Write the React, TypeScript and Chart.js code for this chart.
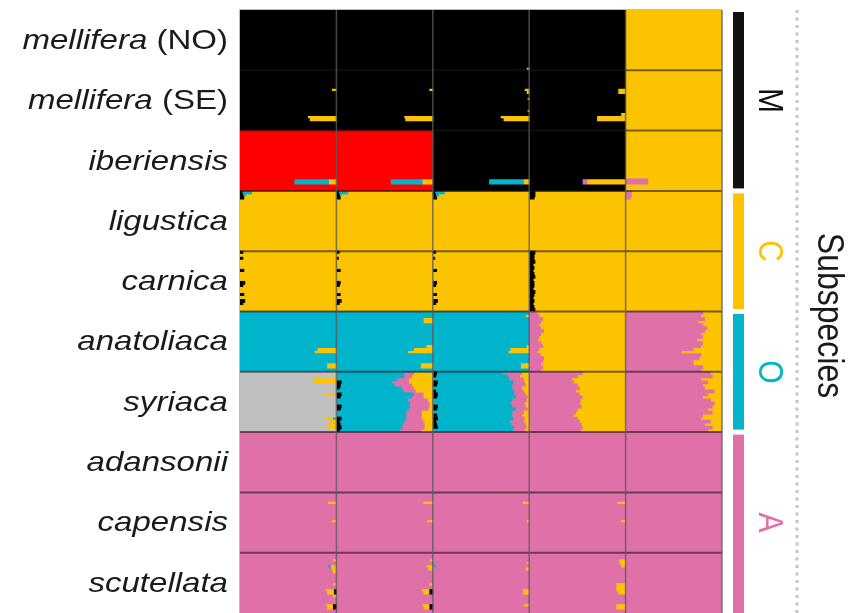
import React, { useEffect, useRef } from "react";
import { Chart, registerables } from "chart.js";
Chart.register(...registerables);

// ---------- DATA ----------
const subspeciesItalic = ["mellifera", "mellifera", "iberiensis", "ligustica", "carnica", "anatoliaca", "syriaca", "adansonii", "capensis", "scutellata"];
const subspeciesSuffix = [" (NO)", " (SE)", "", "", "", "", "", "", "", ""];
const lineageNames = ["M", "C", "O", "A"];
const lineageFirst = [0, 3, 5, 7];
const lineageLast = [2, 4, 6, 9];
const lineageColors = ["#111111", "#fcc400", "#00b4cc", "#e070a8"];
const axisTitle = "Subspecies";
const clusterColors: Record<string, string> = {
  k: "#000000", r: "#ff0000", y: "#fcc400", b: "#00b4cc", p: "#e070a8", g: "#c0c0c0",
};
const perSubspecies = 20;
const runs = 5;

// base cluster of each subspecies in each run (column)
const baseRun1 = ["k", "k", "r", "y", "y", "b", "g", "p", "p", "p"];
const baseRun2 = ["k", "k", "r", "y", "y", "b", "b", "p", "p", "p"];
const baseRun3 = ["k", "k", "k", "y", "y", "b", "b", "p", "p", "p"];
const baseRun4 = ["k", "k", "k", "y", "y", "y", "p", "p", "p", "p"];
const baseRun5 = ["y", "y", "y", "y", "y", "p", "p", "p", "p", "p"];

// admixed individuals: [subspecies, individual, segments left->right ("*" = remainder)]
const mixRun1: [number, number, string][] = [
  [1, 6, "k* y.05"], [1, 15, "k* y.30"], [1, 16, "k* y.28"],
  [2, 16, "r* b.36 y.08"], [2, 17, "r* b.36 y.08"],
  [3, 0, "k.02 b.10 y*"], [3, 1, "k.03 b.03 y*"], [3, 2, "k.04 y*"],
  [4, 0, "k.03 y*"], [4, 2, "k.03 y*"], [4, 6, "k.04 y*"], [4, 10, "k.05 y*"], [4, 11, "k.03 y*"], [4, 14, "k.04 y*"], [4, 16, "k.05 y*"], [4, 17, "k.03 y*"],
  [5, 12, "b* y.20"], [5, 13, "b* y.23"], [5, 17, "b* y.10"], [5, 18, "b* y.10"],
  [6, 2, "g* y.24"], [6, 3, "g* y.24"], [6, 7, "g* y.14"], [6, 15, "g* y.10 b.04"], [6, 16, "g* y.06"], [6, 17, "g* y.09"], [6, 18, "g* y.09"],
  [8, 3, "p* y.09"], [8, 9, "p* y.05"],
  [9, 2, "p* y.04"], [9, 4, "p* b.03 y.06"], [9, 5, "p* y.05"], [9, 6, "p* y.04"], [9, 10, "p* y.04"], [9, 12, "p* y.08 k.03"], [9, 13, "p* y.07 k.03"], [9, 14, "p* y.04"], [9, 17, "p* y.07 k.04"], [9, 18, "p* y.06 k.04"],
];
const mixRun2: [number, number, string][] = [
  [1, 6, "k* y.04"], [1, 15, "k* y.30"], [1, 16, "k* y.29"],
  [2, 16, "r* b.33 y.11"], [2, 17, "r* b.33 y.11"],
  [3, 0, "k.02 b.10 y*"], [3, 1, "k.03 b.02 y*"], [3, 2, "k.04 y*"],
  [4, 0, "k.03 y*"], [4, 2, "k.02 y*"], [4, 6, "k.04 y*"], [4, 10, "k.04 y*"], [4, 11, "k.03 y*"], [4, 14, "k.04 y*"], [4, 16, "k.05 y*"], [4, 17, "k.03 y*"],
  [5, 2, "b* y.10"], [5, 3, "b* y.10"], [5, 11, "b* y.07"], [5, 12, "b* y.20"], [5, 13, "b* y.26"], [5, 17, "b* y.13"], [5, 18, "b* y.13"],
  [8, 3, "p* y.10"], [8, 9, "p* y.06"],
  [9, 2, "p* y.04"], [9, 4, "p* y.07"], [9, 5, "p* y.05"], [9, 10, "p* y.04"], [9, 12, "p* y.08 k.04"], [9, 13, "p* y.06 k.04"], [9, 17, "p* y.07 k.04"], [9, 18, "p* y.06 k.04"],
];
const mixRun3: [number, number, string][] = [
  [0, 19, "k* y.03"],
  [1, 6, "k* y.05"], [1, 7, "k* y.03"], [1, 9, "k* y.02"], [1, 13, "k* y.02"], [1, 15, "k* y.30"], [1, 16, "k* y.27"],
  [2, 16, "k* b.36 y.06"], [2, 17, "k* b.36 y.06"],
  [3, 0, "k.02 b.10 y*"], [3, 1, "k.03 b.03 y*"], [3, 2, "k.04 y*"],
  [4, 0, "k.03 y*"], [4, 2, "k.02 y*"], [4, 6, "k.04 y*"], [4, 10, "k.04 y*"], [4, 11, "k.03 y*"], [4, 14, "k.04 y*"], [4, 16, "k.05 y*"], [4, 17, "k.03 y*"],
  [5, 1, "b* y.04"], [5, 11, "b* y.03"], [5, 12, "b* y.20"], [5, 13, "b* y.22"], [5, 17, "b* y.09"], [5, 18, "b* y.09"],
  [8, 3, "p* y.07"], [8, 9, "p* y.03"],
  [9, 3, "p* y.03"], [9, 4, "b.03 p*"], [9, 5, "p* y.04"], [9, 12, "p* y.07"], [9, 13, "p* y.07"], [9, 17, "p* y.06"],
];
const mixRun4: [number, number, string][] = [
  [1, 6, "k* y.08"], [1, 7, "k* y.08"], [1, 14, "k* y.05"], [1, 15, "k* y.30"], [1, 16, "k* y.30"],
  [2, 16, "k* p.05 y.40"], [2, 17, "k* p.05 y.40"],
  [3, 0, "k.06 y*"], [3, 1, "k.06 y*"], [3, 2, "k.05 y*"],
  [8, 3, "p* y.09"], [8, 9, "p* y.05"],
  [9, 2, "p* y.07"], [9, 3, "p* y.07"], [9, 4, "p* y.05"], [9, 10, "p* y.10"], [9, 11, "p* y.10"], [9, 12, "p* y.10"], [9, 13, "p* y.08"], [9, 17, "p* y.10"], [9, 18, "p* y.10"],
];
const mixRun5: [number, number, string][] = [
  [2, 16, "p.23 y*"], [2, 17, "p.23 y*"],
  [3, 0, "p.06 y*"], [3, 1, "p.06 y*"], [3, 2, "p.05 y*"],
];

// per-individual fractions for the strongly admixed cells
const run2SyriacaBlack = [0, 0, 0, 0.05, 0.04, 0.03, 0, 0.05, 0.04, 0, 0, 0.05, 0.04, 0, 0, 0.05, 0.03, 0.04, 0.05, 0.03];
const run2SyriacaPink = [0.1, 0.08, 0.12, 0.18, 0.18, 0.13, 0.13, 0.1, 0.12, 0.2, 0.2, 0.2, 0.2, 0.16, 0.16, 0.16, 0.2, 0.23, 0.23, 0.23];
const run2SyriacaYellow = [0.2, 0.22, 0.25, 0.25, 0.22, 0.2, 0.18, 0.1, 0.1, 0.06, 0.04, 0.04, 0.05, 0.12, 0.12, 0.12, 0.1, 0.09, 0.09, 0.12];
const run3SyriacaBlack = [0.04, 0.03, 0, 0.05, 0.04, 0, 0.03, 0.05, 0.04, 0, 0, 0.05, 0.04, 0, 0.04, 0.05, 0.03, 0.04, 0.05, 0];
const run3SyriacaPink = [0.2, 0.12, 0.15, 0.12, 0.14, 0.1, 0.1, 0.12, 0.12, 0.15, 0.15, 0.14, 0.12, 0.12, 0.1, 0.12, 0.15, 0.15, 0.13, 0.12];
const run3SyriacaYellow = [0.08, 0.1, 0.06, 0.05, 0.04, 0.08, 0.06, 0.04, 0.02, 0.03, 0.05, 0.04, 0.02, 0.06, 0.08, 0.05, 0.06, 0.04, 0.03, 0.05];
const run4CarnicaBlack = [0.06, 0.05, 0.05, 0.06, 0.04, 0.05, 0.04, 0.05, 0.06, 0.04, 0.05, 0.05, 0.04, 0.06, 0.05, 0.04, 0.05, 0.04, 0.05, 0.06];
const run4AnatoliacaPink = [0.08, 0.1, 0.14, 0.12, 0.1, 0.12, 0.15, 0.12, 0.1, 0.09, 0.12, 0.14, 0.1, 0.08, 0.12, 0.15, 0.14, 0.12, 0.14, 0.12];
const run4SyriacaPink = [0.55, 0.5, 0.44, 0.46, 0.5, 0.52, 0.48, 0.52, 0.55, 0.53, 0.52, 0.54, 0.5, 0.48, 0.46, 0.5, 0.52, 0.54, 0.55, 0.53];
const run5AnatoliacaYellow = [0.2, 0.22, 0.18, 0.25, 0.2, 0.16, 0.18, 0.22, 0.2, 0.26, 0.2, 0.22, 0.3, 0.42, 0.22, 0.24, 0.3, 0.3, 0.2, 0.22];
const run5SyriacaYellow = [0.12, 0.1, 0.22, 0.15, 0.2, 0.18, 0.08, 0.15, 0.2, 0.12, 0.08, 0.1, 0.15, 0.1, 0.2, 0.22, 0.12, 0.18, 0.1, 0.15];

// ---------- BUILD ----------
type Seg = [string, number];

function parseSegs(spec: string): Seg[] {
  const toks = spec.split(" ").map((t) => [t[0], t.slice(1)] as [string, string]);
  const fixed = toks.filter((t) => t[1] !== "*").reduce((s, t) => s + parseFloat(t[1]), 0);
  return toks.map(([c, v]) => [c, v === "*" ? 1 - fixed : parseFloat(v)] as Seg);
}

const bases = [baseRun1, baseRun2, baseRun3, baseRun4, baseRun5];
const mixes = [mixRun1, mixRun2, mixRun3, mixRun4, mixRun5];

function composition(run: number, s: number, i: number): Seg[] {
  if (run === 1 && s === 6) {
    return [["k", run2SyriacaBlack[i]], ["b", 1 - run2SyriacaBlack[i] - run2SyriacaPink[i] - run2SyriacaYellow[i]], ["p", run2SyriacaPink[i]], ["y", run2SyriacaYellow[i]]];
  }
  if (run === 2 && s === 6) {
    return [["k", run3SyriacaBlack[i]], ["b", 1 - run3SyriacaBlack[i] - run3SyriacaPink[i] - run3SyriacaYellow[i]], ["p", run3SyriacaPink[i]], ["y", run3SyriacaYellow[i]]];
  }
  if (run === 3 && s === 4) return [["k", run4CarnicaBlack[i]], ["y", 1 - run4CarnicaBlack[i]]];
  if (run === 3 && s === 5) return [["p", run4AnatoliacaPink[i]], ["y", 1 - run4AnatoliacaPink[i]]];
  if (run === 3 && s === 6) return [["p", run4SyriacaPink[i]], ["y", 1 - run4SyriacaPink[i]]];
  if (run === 4 && s === 5) return [["p", 1 - run5AnatoliacaYellow[i]], ["y", run5AnatoliacaYellow[i]]];
  if (run === 4 && s === 6) return [["p", 1 - run5SyriacaYellow[i]], ["y", run5SyriacaYellow[i]]];
  const m = mixes[run].find((e) => e[0] === s && e[1] === i);
  if (m) return parseSegs(m[2]);
  return [[bases[run][s], 1]];
}

const labels: string[] = [];
for (let s = 0; s < subspeciesItalic.length; s++)
  for (let i = 0; i < perSubspecies; i++) labels.push(`${subspeciesItalic[s]}${subspeciesSuffix[s]} #${i + 1}`);

function buildDatasets() {
  const ds: any[] = [];
  const maxSlots = 4;
  for (let run = 0; run < runs; run++) {
    for (let slot = 0; slot < maxSlots; slot++) {
      const data: any[] = [];
      const colors: string[] = [];
      for (let s = 0; s < subspeciesItalic.length; s++) {
        for (let i = 0; i < perSubspecies; i++) {
          const comp = composition(run, s, i).filter((c) => c[1] > 0);
          if (slot < comp.length) {
            let start = 0;
            for (let j = 0; j < slot; j++) start += comp[j][1];
            data.push([run + start, run + start + comp[slot][1]]);
            colors.push(clusterColors[comp[slot][0]]);
          } else {
            data.push(null);
            colors.push("rgba(0,0,0,0)");
          }
        }
      }
      ds.push({ label: `run ${run + 1} slot ${slot + 1}`, data, backgroundColor: colors, borderWidth: 0, inflateAmount: 0.4 });
    }
  }
  return ds;
}

function stretchedText(ctx: CanvasRenderingContext2D, text: string, x: number, y: number, font: string, color: string, sx: number, rotate: boolean) {
  ctx.save();
  ctx.translate(x, y);
  ctx.scale(sx, 1);
  if (rotate) ctx.rotate(Math.PI / 2);
  ctx.font = font;
  ctx.fillStyle = color;
  ctx.textAlign = "center";
  ctx.textBaseline = "middle";
  ctx.fillText(text, 0, 0);
  ctx.restore();
}

const overlay = {
  id: "overlay",
  afterDatasetsDraw(chart: any) {
    const { ctx, chartArea: a } = chart;
    const xs = chart.scales.x;
    const nRows = subspeciesItalic.length;
    const rowH = (a.bottom - a.top) / nRows;
    ctx.save();
    // row separators
    ctx.strokeStyle = "rgba(30,20,30,0.6)";
    ctx.lineWidth = 2;
    for (let r = 1; r < nRows; r++) {
      const y = a.top + r * rowH;
      ctx.beginPath(); ctx.moveTo(a.left, y); ctx.lineTo(a.right, y); ctx.stroke();
    }
    // column separators
    ctx.strokeStyle = "rgba(90,90,90,0.8)";
    ctx.lineWidth = 1.5;
    for (let c = 1; c < runs; c++) {
      const x = xs.getPixelForValue(c);
      ctx.beginPath(); ctx.moveTo(x, a.top); ctx.lineTo(x, a.bottom); ctx.stroke();
    }
    // outer frame
    ctx.beginPath(); ctx.moveTo(a.right, a.top); ctx.lineTo(a.right, a.bottom); ctx.stroke();
    ctx.strokeStyle = "#bdbdbd";
    ctx.lineWidth = 1;
    ctx.beginPath(); ctx.moveTo(a.left - 0.5, a.top - 0.5); ctx.lineTo(a.right, a.top - 0.5); ctx.stroke();
    ctx.beginPath(); ctx.moveTo(a.left - 0.5, a.top); ctx.lineTo(a.left - 0.5, a.bottom); ctx.stroke();

    // left labels
    const sx = 1.18;
    for (let s = 0; s < nRows; s++) {
      const yc = a.top + (s + 0.5) * rowH + 1;
      ctx.save();
      ctx.translate(a.left - 12, yc);
      ctx.scale(sx, 1);
      ctx.textBaseline = "middle";
      ctx.textAlign = "right";
      ctx.fillStyle = "#1a1a1a";
      ctx.font = '28px "Liberation Sans"';
      const suf = subspeciesSuffix[s];
      const w = suf ? ctx.measureText(suf).width : 0;
      if (suf) ctx.fillText(suf, 0, 0);
      ctx.font = 'italic 28px "Liberation Sans"';
      ctx.fillText(subspeciesItalic[s], -w, 0);
      ctx.restore();
    }

    // lineage bars + labels
    const barX = a.right + 11;
    for (let g = 0; g < lineageNames.length; g++) {
      const y0 = a.top + lineageFirst[g] * rowH + (g === 0 ? 2 : 2.5);
      const y1 = a.top + (lineageLast[g] + 1) * rowH - (g === lineageNames.length - 1 ? 0 : 2.5);
      ctx.fillStyle = lineageColors[g];
      ctx.fillRect(barX, y0, 11, y1 - y0);
      const yc = a.top + ((lineageFirst[g] + lineageLast[g] + 1) / 2) * rowH;
      stretchedText(ctx, lineageNames[g], a.right + 47, yc, '30px "Liberation Sans"', lineageColors[g], 1.16, true);
    }

    // dotted divider
    ctx.strokeStyle = "#c4c4c4";
    ctx.lineWidth = 3;
    ctx.setLineDash([3, 4.5]);
    ctx.beginPath(); ctx.moveTo(a.right + 75, a.top); ctx.lineTo(a.right + 75, a.bottom); ctx.stroke();
    ctx.setLineDash([]);

    // axis title
    stretchedText(ctx, axisTitle, a.right + 106, (a.top + a.bottom) / 2 + 4, '32px "Liberation Sans"', "#1a1a1a", 1.16, true);
    ctx.restore();
  },
};

export default function App() {
  const ref = useRef<HTMLCanvasElement | null>(null);
  useEffect(() => {
    if (!ref.current) return;
    const chart = new Chart(ref.current, {
      type: "bar",
      data: { labels, datasets: buildDatasets() },
      options: {
        indexAxis: "y",
        responsive: false,
        animation: false,
        devicePixelRatio: 1,
        layout: { padding: { left: 240, right: 130, top: 10, bottom: 0 } },
        plugins: { legend: { display: false }, tooltip: { enabled: false } },
        scales: {
          x: { type: "linear", min: 0, max: runs, display: false },
          y: { type: "category", display: false, offset: true },
        },
        datasets: { bar: { barPercentage: 1, categoryPercentage: 1, grouped: false } as any },
      } as any,
      plugins: [overlay],
    });
    return () => chart.destroy();
  }, []);
  return (
    <div style={{ position: "absolute", left: 0, top: 0, width: 852, height: 613, background: "#ffffff" }}>
      <canvas ref={ref} width={852} height={613} />
    </div>
  );
}
